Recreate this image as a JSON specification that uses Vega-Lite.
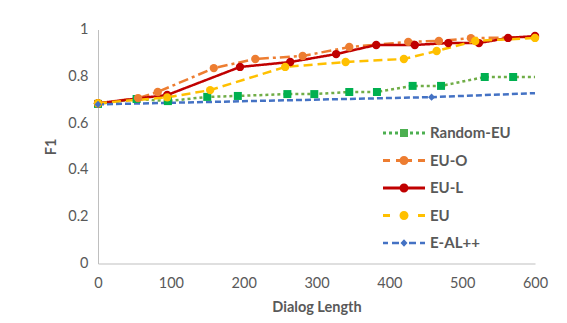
{
  "$schema": "https://vega.github.io/schema/vega-lite/v6.json",
  "width": 437,
  "height": 234,
  "autosize": "none",
  "padding": {"left": 98, "top": 29.5, "right": 32, "bottom": 59.5},
  "background": "white",
  "config": {
    "view": {"stroke": null},
    "font": "Lato",
    "axis": {"labelColor": "#595959", "titleColor": "#595959", "labelFont": "Lato", "titleFont": "Lato", "labelFontSize": 14.5, "titleFontSize": 14.5, "titleFontWeight": "bold", "grid": false, "ticks": false, "domainColor": "#bfbfbf", "domainWidth": 1}
  },
  "data": {
    "values": [
      {"series": "Random-EU", "x": 0, "y": 0.682},
      {"series": "Random-EU", "x": 53, "y": 0.703},
      {"series": "Random-EU", "x": 96, "y": 0.694},
      {"series": "Random-EU", "x": 150, "y": 0.712},
      {"series": "Random-EU", "x": 192, "y": 0.716},
      {"series": "Random-EU", "x": 260, "y": 0.724},
      {"series": "Random-EU", "x": 297, "y": 0.724},
      {"series": "Random-EU", "x": 345, "y": 0.733},
      {"series": "Random-EU", "x": 383, "y": 0.733},
      {"series": "Random-EU", "x": 432, "y": 0.759},
      {"series": "Random-EU", "x": 471, "y": 0.759},
      {"series": "Random-EU", "x": 531, "y": 0.797},
      {"series": "Random-EU", "x": 570, "y": 0.797},
      {"series": "Random-EU", "x": 600, "y": 0.797},
      {"series": "EU-O", "x": 0, "y": 0.685},
      {"series": "EU-O", "x": 55, "y": 0.707},
      {"series": "EU-O", "x": 82, "y": 0.733},
      {"series": "EU-O", "x": 159, "y": 0.835},
      {"series": "EU-O", "x": 216, "y": 0.874},
      {"series": "EU-O", "x": 281, "y": 0.887},
      {"series": "EU-O", "x": 345, "y": 0.925},
      {"series": "EU-O", "x": 426, "y": 0.947},
      {"series": "EU-O", "x": 468, "y": 0.951},
      {"series": "EU-O", "x": 512, "y": 0.963},
      {"series": "EU-O", "x": 600, "y": 0.968},
      {"series": "EU-L", "x": 0, "y": 0.685},
      {"series": "EU-L", "x": 95, "y": 0.72},
      {"series": "EU-L", "x": 195, "y": 0.84},
      {"series": "EU-L", "x": 264, "y": 0.861},
      {"series": "EU-L", "x": 327, "y": 0.895},
      {"series": "EU-L", "x": 382, "y": 0.934},
      {"series": "EU-L", "x": 435, "y": 0.934},
      {"series": "EU-L", "x": 481, "y": 0.942},
      {"series": "EU-L", "x": 523, "y": 0.942},
      {"series": "EU-L", "x": 563, "y": 0.964},
      {"series": "EU-L", "x": 600, "y": 0.972},
      {"series": "EU", "x": 0, "y": 0.685},
      {"series": "EU", "x": 95, "y": 0.71},
      {"series": "EU", "x": 154, "y": 0.741},
      {"series": "EU", "x": 257, "y": 0.84},
      {"series": "EU", "x": 340, "y": 0.861},
      {"series": "EU", "x": 420, "y": 0.874},
      {"series": "EU", "x": 465, "y": 0.908},
      {"series": "EU", "x": 518, "y": 0.951},
      {"series": "EU", "x": 600, "y": 0.964},
      {"series": "E-AL++", "x": 0, "y": 0.68},
      {"series": "E-AL++", "x": 458, "y": 0.711},
      {"series": "E-AL++", "x": 600, "y": 0.728}
    ]
  },
  "encoding": {
    "x": {"field": "x", "type": "quantitative", "scale": {"domain": [0, 600], "nice": false}, "axis": {"values": [0, 100, 200, 300, 400, 500, 600], "title": "Dialog Length", "labelPadding": 13, "titlePadding": 10, "labelFlush": false}},
    "y": {"field": "y", "type": "quantitative", "scale": {"domain": [0, 1], "nice": false}, "axis": {"values": [0, 0.2, 0.4, 0.6, 0.8, 1], "format": ".1~f", "title": "F1", "labelPadding": 10, "titlePadding": 9}}
  },
  "layer": [
    {
      "mark": {"type": "line", "strokeWidth": 2.5},
      "encoding": {
        "stroke": {"field": "series", "type": "nominal", "scale": {"domain": ["E-AL++", "EU", "EU-L", "EU-O", "Random-EU"], "range": ["#4472c4", "#ffc000", "#c00000", "#ed7d31", "#70ad47"]}, "legend": null},
        "strokeDash": {"field": "series", "type": "nominal", "scale": {"domain": ["E-AL++", "EU", "EU-L", "EU-O", "Random-EU"], "range": [[6, 3], [9, 5], [1, 0], [10, 4, 3, 4], [3, 3]]}, "legend": null},
        "order": {"field": "x"}
      }
    },
    {
      "transform": [{"filter": "datum.series == 'Random-EU' && datum.x < 600"}],
      "mark": {"type": "point", "shape": "square", "filled": true, "size": 64, "opacity": 1, "color": "#00b050"}
    },
    {
      "transform": [{"filter": "datum.series == 'EU-O' || datum.series == 'EU-L' || datum.series == 'EU'"}],
      "mark": {"type": "point", "shape": "circle", "filled": true, "size": 70, "opacity": 1},
      "encoding": {
        "fill": {"field": "series", "type": "nominal", "scale": {"domain": ["EU-O", "EU-L", "EU"], "range": ["#ed7d31", "#c00000", "#ffc000"]}, "legend": null}
      }
    },
    {
      "transform": [{"filter": "datum.series == 'E-AL++' && datum.x < 600"}],
      "mark": {"type": "point", "shape": "diamond", "filled": true, "size": 50, "opacity": 1, "color": "#4472c4"}
    },
    {
      "transform": [{"filter": "datum.x < 0"}],
      "mark": {"type": "point", "filled": true, "opacity": 1, "size": 400},
      "encoding": {
        "color": {"field": "series", "type": "nominal", "scale": {"domain": ["Random-EU", "EU-O", "EU-L", "EU", "E-AL++"], "range": ["#4caf50", "#ed7d31", "#c00000", "#ffc000", "#4472c4"]}, "legend": {"title": null, "orient": "none", "legendX": 296, "legendY": 93.5, "padding": 0, "symbolSize": 400, "symbolOpacity": 1, "symbolStrokeWidth": 0, "labelOffset": 16, "rowPadding": 9.5, "labelFont": "Lato", "labelFontSize": 15, "labelFontWeight": "bold", "labelColor": "#595959"}},
        "shape": {"field": "series", "type": "nominal", "scale": {"domain": ["Random-EU", "EU-O", "EU-L", "EU", "E-AL++"], "range": [
          "M-2.1,-0.15H-1.8V0.15H-2.1Z M-1.5,-0.15H-1.2V0.15H-1.5Z M-0.9,-0.15H-0.6V0.15H-0.9Z M-0.4,-0.4H0.4V0.4H-0.4Z M0.6,-0.15H0.9V0.15H0.6Z M1.2,-0.15H1.5V0.15H1.2Z M1.8,-0.15H2.1V0.15H1.8Z",
          "M-2.1,-0.15H-1.4V0.15H-2.1Z M-0.8,-0.15H0.8V0.15H-0.8Z M-0.45,0A0.45,0.45 0 1,1 0.45,0A0.45,0.45 0 1,1 -0.45,0Z M1.4,-0.15H2.1V0.15H1.4Z",
          "M-2.1,-0.15H2.1V0.15H-2.1Z M-0.45,0A0.45,0.45 0 1,1 0.45,0A0.45,0.45 0 1,1 -0.45,0Z",
          "M-2.1,-0.15H-1.4V0.15H-2.1Z M-0.45,0A0.45,0.45 0 1,1 0.45,0A0.45,0.45 0 1,1 -0.45,0Z M1.4,-0.15H2.1V0.15H1.4Z",
          "M-2.1,-0.12H-1.6V0.12H-2.1Z M-1.2,-0.12H-0.5V0.12H-1.2Z M0,-0.38L0.35,0L0,0.38L-0.35,0Z M0.5,-0.12H1.2V0.12H0.5Z M1.6,-0.12H2.1V0.12H1.6Z"
        ]}}
      }
    }
  ]
}
